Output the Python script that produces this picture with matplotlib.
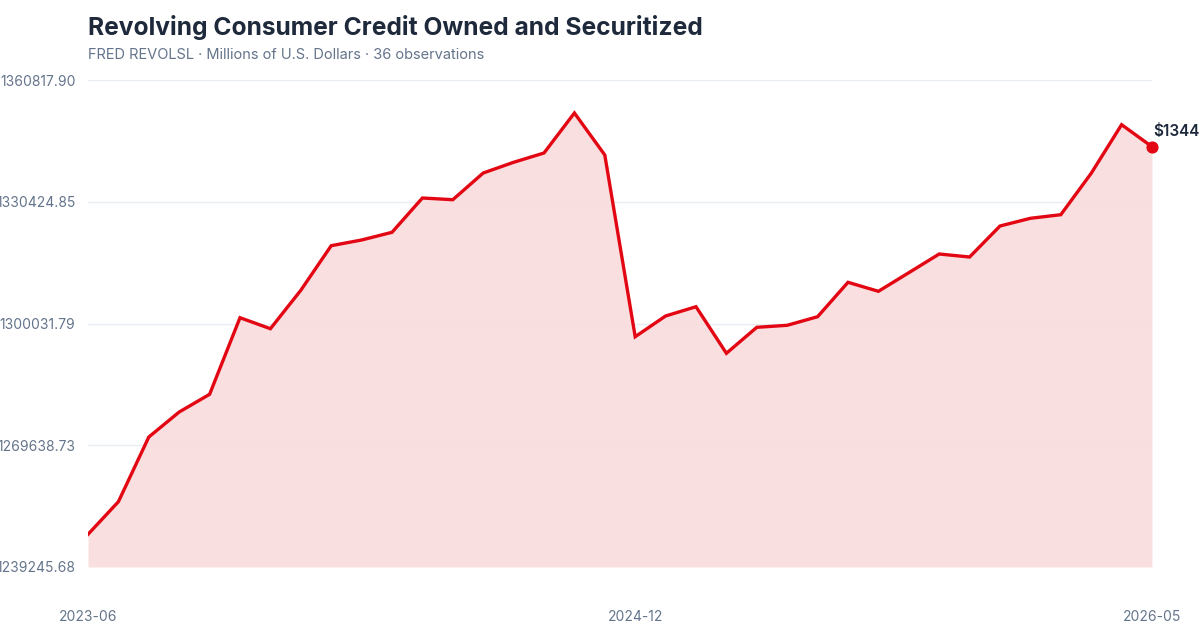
import numpy as np
import pandas as pd
import matplotlib.pyplot as plt

plt.rcParams['font.family'] = ['Inter', 'DejaVu Sans']

months = pd.period_range('2023-06', '2026-05', freq='M').strftime('%Y-%m').tolist()
values = [1247407, 1255545, 1271697, 1277938, 1282356, 1301479, 1298732, 1308319,
          1319453, 1320876, 1322798, 1331360, 1330936, 1337601, 1340273, 1342594,
          1352580, 1342095, 1296735, 1301903, 1304225, 1292591, 1299082, 1299581,
          1301728, 1310316, 1308069, 1312712, 1317381, 1316632, 1324371, 1326293,
          1327192, 1337527, 1349659, 1344167]
y_ticks = [1239245.68, 1269638.73, 1300031.79, 1330424.85, 1360817.90]
x_tick_idx = [0, 18, 35]

red = '#e30613'
dark = '#1e293b'
gray = '#64748b'

fig = plt.figure(figsize=(12, 6.4), dpi=100)
ax = fig.add_axes([88 / 1200, 1 - 567 / 640, (1152 - 88) / 1200, (567 - 80) / 640])

x = np.arange(len(values))
ax.fill_between(x, values, y_ticks[0], color='#f9dcdc', alpha=0.9, lw=0, zorder=1)
ax.plot(x, values, color=red, lw=2.4, zorder=3, solid_joinstyle='miter')
ax.scatter([x[-1]], [values[-1]], s=60, color=red, zorder=4, clip_on=False)
ax.text(x[-1] + 0.03, values[-1] + 3700, '$%d' % values[-1], color=dark,
        fontsize=11, fontweight='semibold', ha='left', va='center', clip_on=False)

ax.set_xlim(0, len(values) - 1)
ax.set_ylim(y_ticks[0], y_ticks[-1])
ax.set_yticks(y_ticks)
ax.set_yticklabels(['%.2f' % v for v in y_ticks])
ax.set_xticks(x_tick_idx)
ax.set_xticklabels([months[i] for i in x_tick_idx])
ax.grid(axis='y', color='#e9ecf1', lw=1, zorder=0)
ax.set_axisbelow(True)
for s in ax.spines.values():
    s.set_visible(False)
ax.tick_params(axis='both', length=0, colors=gray, labelsize=10)
ax.tick_params(axis='y', pad=9)
ax.tick_params(axis='x', pad=31)

fig.text(88 / 1200, 1 - 27 / 640, 'Revolving Consumer Credit Owned and Securitized',
         fontsize=17.7, fontweight='bold', color=dark, ha='left', va='center')
fig.text(88 / 1200, 1 - 55 / 640, 'FRED REVOLSL \u00b7 Millions of U.S. Dollars \u00b7 36 observations',
         fontsize=10.5, color=gray, ha='left', va='center')

fig.savefig('out.png', dpi=100)
plt.close(fig)
